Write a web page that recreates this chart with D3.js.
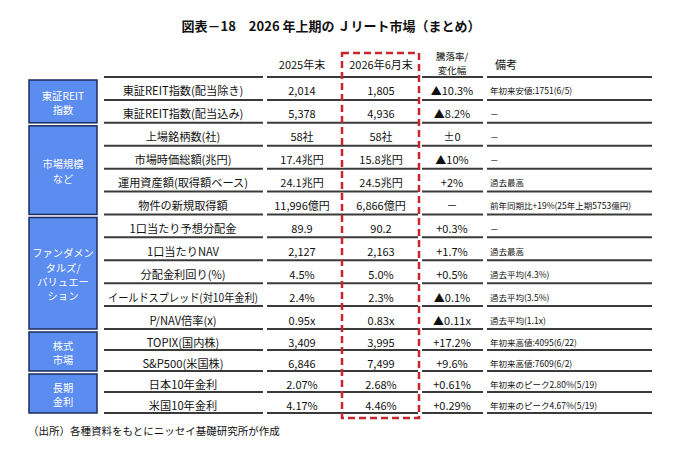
<!DOCTYPE html>
<html><head><meta charset="utf-8">
<script src="https://cdn.jsdelivr.net/npm/d3@7"></script>
<style>
html,body{margin:0;padding:0;background:#fff;}
svg{display:block;font-family:"Noto Sans CJK JP","Noto Sans",sans-serif;}
</style></head>
<body><svg id="c" width="680" height="455"></svg>
<script>
const title = "図表－18　2026 年上期の Ｊリート市場（まとめ）";
const source = "（出所）各種資料をもとにニッセイ基礎研究所が作成";
const headers = [["2025年末"], ["2026年6月末"], ["騰落率/", "変化幅"], ["備考"]];
const groupLabels = [["東証REIT","指数"],["市場規模","など"],["ファンダメン","タルズ/","バリュエー","ション"],["株式","市場"],["長期","金利"]];
const groupSizes = [2, 4, 5, 2, 2];
const items = ["東証REIT指数(配当除き)","東証REIT指数(配当込み)","上場銘柄数(社)","市場時価総額(兆円)","運用資産額(取得額ベース)","物件の新規取得額","1口当たり予想分配金","1口当たりNAV","分配金利回り(%)","イールドスプレッド(対10年金利)","P/NAV倍率(x)","TOPIX(国内株)","S&P500(米国株)","日本10年金利","米国10年金利"];
const v2025 = ["2,014","5,378","58社","17.4兆円","24.1兆円","11,996億円","89.9","2,127","4.5%","2.4%","0.95x","3,409","6,846","2.07%","4.17%"];
const v2026 = ["1,805","4,936","58社","15.8兆円","24.5兆円","6,866億円","90.2","2,163","5.0%","2.3%","0.83x","3,995","7,499","2.68%","4.46%"];
const changes = ["▲10.3%","▲8.2%","±0","▲10%","+2%","－","+0.3%","+1.7%","+0.5%","▲0.1%","▲0.11x","+17.2%","+9.6%","+0.61%","+0.29%"];
const notes = ["年初来安値:1751(6/5)","－","－","－","過去最高","前年同期比+19%(25年上期5753億円)","－","過去最高","過去平均(4.3%)","過去平均(3.5%)","過去平均(1.1x)","年初来高値:4095(6/22)","年初来高値:7609(6/2)","年初来のピーク2.80%(5/19)","年初来のピーク4.67%(5/19)"];

const svg = d3.select("#c");
const n = items.length;
// row boundaries: first 11 rows taller than last 4
const y = d3.scaleLinear().domain([0, 11, n]).range([77, 329, 413]);
// column edges
const colEdges = [[104,263],[267,342],[342,418],[422,483],[487,652]];
const colCenter = d3.scaleOrdinal().domain(["label","v25","v26","chg"])
  .range([183, 302, 381, 452]);
const noteX = 490;
const textDy = 2;

// title
svg.append("text").attr("x", 331).attr("y", 25)
  .attr("text-anchor","middle").attr("dominant-baseline","central")
  .attr("font-size", 13).attr("font-weight", "bold").attr("fill","#111")
  .text(title);

// header
const hx = [colCenter("v25"), colCenter("v26"), colCenter("chg"), noteX+5];
headers.forEach((h, i) => {
  const t = svg.append("text").attr("x", hx[i])
    .attr("text-anchor", i === 3 ? "start" : "middle")
    .attr("font-size", i === 2 ? 9.5 : 11).attr("fill","#111");
  h.forEach((line, j) => {
    t.append("tspan").attr("x", hx[i])
      .attr("y", h.length === 1 ? 64 : 56 + j*14)
      .attr("dominant-baseline","central").text(line);
  });
});

// row lines
const lines = [];
d3.range(n + 1).forEach(i => colEdges.forEach(c => lines.push({i, c})));
svg.append("g").selectAll("line").data(lines).join("line")
  .attr("x1", d => d.c[0]).attr("x2", d => d.c[1])
  .attr("y1", d => y(d.i)).attr("y2", d => y(d.i))
  .attr("stroke", "#3a3a3a").attr("stroke-width", 2);

// row texts
const rows = svg.append("g").selectAll("g").data(items).join("g")
  .attr("transform", (d, i) => `translate(0,${(y(i)+y(i+1))/2 + textDy})`);
rows.append("text").attr("x", colCenter("label")).attr("text-anchor","middle")
  .attr("dominant-baseline","central").attr("font-size", 11.2).attr("fill","#111").text(d => d)
  .each(function() {
    const w = this.getComputedTextLength();
    if (w > 150) d3.select(this).attr("textLength", 150).attr("lengthAdjust", "spacingAndGlyphs");
  });
rows.append("text").attr("x", colCenter("v25")).attr("text-anchor","middle")
  .attr("dominant-baseline","central").attr("font-size", 11).attr("fill","#111").text((d,i) => v2025[i]);
rows.append("text").attr("x", colCenter("v26")).attr("text-anchor","middle")
  .attr("dominant-baseline","central").attr("font-size", 11).attr("fill","#111").text((d,i) => v2026[i]);
rows.append("text").attr("x", colCenter("chg")).attr("text-anchor","middle")
  .attr("dominant-baseline","central").attr("font-size", 11).attr("fill","#111").text((d,i) => changes[i]);
rows.append("text").attr("x", noteX).attr("text-anchor","start")
  .attr("dominant-baseline","central").attr("font-size", 8.5).attr("fill","#111").text((d,i) => notes[i]);

// group boxes
let start = 0;
const groups = groupLabels.map((lab, k) => {
  const g = {lab, s: start, e: start + groupSizes[k]};
  start += groupSizes[k];
  return g;
});
const gb = svg.append("g").selectAll("g").data(groups).join("g");
gb.append("rect").attr("x", 29).attr("width", 68)
  .attr("y", d => y(d.s) + 3).attr("height", d => y(d.e) - y(d.s) - 3)
  .attr("fill", "#5b8cf0").attr("stroke", "#1c2b5e").attr("stroke-width", 1.5);
gb.each(function(d) {
  const cy = (y(d.s) + 3 + y(d.e)) / 2;
  const lh = 14.4;
  const t = d3.select(this).append("text").attr("text-anchor","middle")
    .attr("font-size", 10.3).attr("fill", "#fff");
  d.lab.forEach((line, j) => {
    t.append("tspan").attr("x", 63)
      .attr("y", cy + (j - (d.lab.length - 1)/2) * lh + 1)
      .attr("dominant-baseline","central").text(line);
  });
});

// dashed highlight around 2026 column
svg.append("rect").attr("x", 342).attr("y", 53).attr("width", 77)
  .attr("height", y(n) + 5 - 53)
  .attr("fill", "none").attr("stroke", "#c8262c").attr("stroke-width", 2.5)
  .attr("stroke-dasharray", "7,4");

// source
svg.append("text").attr("x", 28).attr("y", 430).attr("dominant-baseline","central")
  .attr("font-size", 10.5).attr("fill","#111").text(source);
</script></body></html>
